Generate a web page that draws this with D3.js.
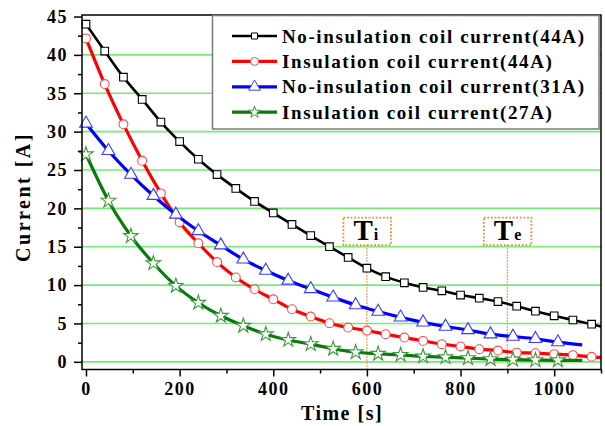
<!DOCTYPE html>
<html>
<head>
<meta charset="utf-8">
<script src="https://cdn.jsdelivr.net/npm/d3@7/dist/d3.min.js"></script>
<style>
  body { margin: 0; background: #fff; }
  svg text { font-family: "Liberation Serif", "Times New Roman", serif; font-weight: bold; }
</style>
</head>
<body>
<svg id="chart" width="605" height="426"></svg>
<script>
'use strict';

// data
var blackTime = [0, 40, 80, 120, 160, 200, 240, 280, 320, 360, 400, 440, 480, 520,
                 560, 600, 640, 680, 720, 760, 800, 840, 880, 920, 960, 1000, 1040, 1080];
var blackCurrent = [44, 40.5, 37.1, 34.2, 31.25, 28.7, 26.4, 24.4, 22.6, 20.9, 19.4, 17.9, 16.45, 15.0,
                    13.6, 12.2, 11.1, 10.3, 9.7, 9.25, 8.7, 8.3, 7.85, 7.25, 6.6, 6.0, 5.45, 4.9];
var blackEnd = [1100, 4.6];

var redTime = blackTime;
var redCurrent = [42.15, 36.2, 30.95, 26.2, 21.95, 18.2, 15.45, 13.0, 11.0, 9.45, 8.15, 6.85, 5.9, 5.03,
                  4.47, 4.07, 3.6, 3.16, 2.73, 2.3, 2.0, 1.65, 1.47, 1.2, 1.13, 1.0, 0.87, 0.65];
var redEnd = [1100, 0.55];

var blueTime = [0, 48, 96, 144, 192, 240, 288, 336, 384, 432, 480, 528, 576, 624, 672,
                720, 768, 816, 864, 912, 960, 1008];
var blueCurrent = [31.07, 27.5, 24.4, 21.65, 19.2, 17.05, 15.2, 13.35, 11.9, 10.6, 9.5, 8.4, 7.4, 6.55,
                   5.8, 5.15, 4.6, 4.15, 3.6, 3.3, 3.0, 2.57];
var blueEnd = [1060, 2.2];

var greenTime = blueTime;
var greenCurrent = [27.05, 21.0, 16.4, 12.85, 9.9, 7.7, 6.0, 4.7, 3.6, 2.85, 2.3, 1.7, 1.25, 1.05,
                    0.9, 0.7, 0.6, 0.48, 0.36, 0.28, 0.22, 0.2];
var greenEnd = [1060, 0.18];

var seriesNames = ['No-insulation coil current(44A)', 'Insulation coil current(44A)',
                   'No-insulation coil current(31A)', 'Insulation coil current(27A)'];

var xTicks = [0, 200, 400, 600, 800, 1000];
var xMinorTicks = [100, 300, 500, 700, 900, 1100];
var yTicks = [0, 5, 10, 15, 20, 25, 30, 35, 40, 45];
var yMinorTicks = [2.5, 7.5, 12.5, 17.5, 22.5, 27.5, 32.5, 37.5, 42.5];
var gridValues = [0, 5, 10, 15, 20, 25, 30, 35, 40];

var markTimes = [600, 900];
var markSubs = ['i', 'e'];

var svg = d3.select('#chart');

var plotLeft = 82, plotRight = 601, plotTop = 15, plotBottom = 369.5;

var x = d3.scaleLinear().domain([-8.5, 1100]).range([plotLeft, plotRight]);
var y = d3.scaleLinear().domain([-1, 45.2]).range([plotBottom, plotTop]);

// Grid lines
svg.append('g').selectAll('line')
    .data(gridValues)
    .enter().append('line')
    .attr('x1', plotLeft).attr('x2', plotRight)
    .attr('y1', function(d) { return y(d); })
    .attr('y2', function(d) { return y(d); })
    .attr('stroke', '#74ec74')
    .attr('stroke-width', 1.6);

// Ti / Te markers
var marks = svg.append('g');
markTimes.forEach(function(t, i) {
    var cx = x(t);
    marks.append('line')
        .attr('x1', cx).attr('x2', cx)
        .attr('y1', y(15.2)).attr('y2', plotBottom)
        .attr('stroke', '#f08a30')
        .attr('stroke-width', 1.3)
        .attr('stroke-dasharray', '1.5,1.5');
    marks.append('rect')
        .attr('x', cx - 23.5).attr('y', y(18.8))
        .attr('width', 47.5).attr('height', y(15.2) - y(18.8))
        .attr('fill', 'none')
        .attr('stroke', '#f08a30')
        .attr('stroke-width', 1.8)
        .attr('stroke-dasharray', '1.8,1.8');
    var label = marks.append('text')
        .attr('x', cx - 13.5).attr('y', y(15.9))
        .style('font-size', '29px');
    label.append('tspan').text('T');
    label.append('tspan').style('font-size', '16px').attr('dx', 1).text(markSubs[i]);
});

// Series
var series = [
    { time: blackTime, current: blackCurrent, end: blackEnd, color: '#000', mcolor: '#000', width: 2.6, shape: 'square' },
    { time: redTime, current: redCurrent, end: redEnd, color: '#ff0000', mcolor: '#ff4a4a', width: 3.2, shape: 'circle' },
    { time: blueTime, current: blueCurrent, end: blueEnd, color: '#0000ff', mcolor: '#3a3aff', width: 3.2, shape: 'triangle' },
    { time: greenTime, current: greenCurrent, end: greenEnd, color: '#0a7a0a', mcolor: '#3a9a3a', width: 3.2, shape: 'star' }
];

var symbols = {
    square: d3.symbol().type(d3.symbolSquare).size(58),
    circle: d3.symbol().type(d3.symbolCircle).size(62),
    triangle: d3.symbol().type(d3.symbolTriangle).size(70),
    star: d3.symbol().type(d3.symbolStar).size(66)
};
var legendSymbols = {
    square: d3.symbol().type(d3.symbolSquare).size(36),
    circle: d3.symbol().type(d3.symbolCircle).size(50),
    triangle: d3.symbol().type(d3.symbolTriangle).size(60),
    star: d3.symbol().type(d3.symbolStar).size(44)
};

var line = d3.line()
    .x(function(d) { return x(d[0]); })
    .y(function(d) { return y(d[1]); })
    .curve(d3.curveMonotoneX);

series.forEach(function(s) {
    var pts = s.time.map(function(t, i) { return [t, s.current[i]]; });
    svg.append('path')
        .datum(pts.concat([s.end]))
        .attr('d', line)
        .attr('fill', 'none')
        .attr('stroke', s.color)
        .attr('stroke-width', s.width);
    svg.append('g').selectAll('path')
        .data(pts)
        .enter().append('path')
        .attr('d', symbols[s.shape])
        .attr('transform', function(d) { return 'translate(' + x(d[0]) + ',' + y(d[1]) + ')'; })
        .attr('fill', '#fff')
        .attr('stroke', s.mcolor)
        .attr('stroke-width', 1.1);
});

// Frame
svg.append('rect')
    .attr('x', plotLeft).attr('y', plotTop)
    .attr('width', plotRight - plotLeft).attr('height', plotBottom - plotTop)
    .attr('fill', 'none')
    .attr('stroke', '#000')
    .attr('stroke-width', 1.5);

function styleTicks(g) {
    g.select('.domain').remove();
    g.selectAll('line').attr('stroke-width', 1.5);
    g.selectAll('text')
        .attr('fill', '#000')
        .style('font-size', '18px')
        .style('font-weight', 'bold')
        .style('letter-spacing', '1.5px')
        .style('font-family', '"Liberation Serif", serif');
}

// X Axis Ticks
svg.append('g')
    .attr('transform', 'translate(0,' + plotBottom + ')')
    .call(d3.axisBottom(x).tickValues(xTicks).tickSize(7).tickPadding(6).tickFormat(d3.format('d')))
    .call(styleTicks);
svg.append('g')
    .attr('transform', 'translate(0,' + plotBottom + ')')
    .call(d3.axisBottom(x).tickValues(xMinorTicks).tickSize(4).tickFormat(''))
    .call(styleTicks);

// Y Axis Ticks
svg.append('g')
    .attr('transform', 'translate(' + plotLeft + ',0)')
    .call(d3.axisLeft(y).tickValues(yTicks).tickSize(8).tickPadding(6))
    .call(styleTicks);
svg.append('g')
    .attr('transform', 'translate(' + plotLeft + ',0)')
    .call(d3.axisLeft(y).tickValues(yMinorTicks).tickSize(4).tickFormat(''))
    .call(styleTicks);

// Axis titles
svg.append('text')
    .attr('x', 342).attr('y', 420)
    .attr('text-anchor', 'middle')
    .style('font-size', '20px')
    .style('letter-spacing', '1.5px')
    .text('Time [s]');

svg.append('text')
    .attr('transform', 'translate(30,197) rotate(-90)')
    .attr('text-anchor', 'middle')
    .style('font-size', '20px')
    .style('letter-spacing', '2.5px')
    .text('Current [A]');

// Legend
var legend = svg.append('g');
legend.append('rect')
    .attr('x', 212.5).attr('y', 15.5)
    .attr('width', 386.5).attr('height', 113.5)
    .attr('fill', '#fff')
    .attr('stroke', '#7a7a7a')
    .attr('stroke-width', 1.5);

series.forEach(function(s, i) {
    var ly = 36 + i * 25.4;
    legend.append('line')
        .attr('x1', 232).attr('x2', 277)
        .attr('y1', ly).attr('y2', ly)
        .attr('stroke', s.color)
        .attr('stroke-width', s.width);
    legend.append('path')
        .attr('d', legendSymbols[s.shape])
        .attr('transform', 'translate(254.5,' + ly + ')')
        .attr('fill', '#fff')
        .attr('stroke', s.mcolor)
        .attr('stroke-width', 1);
    legend.append('text')
        .attr('x', 282).attr('y', ly + 6.5)
        .style('font-size', '19px')
        .style('letter-spacing', '1.6px')
        .text(seriesNames[i]);
});
</script>
</body>
</html>
